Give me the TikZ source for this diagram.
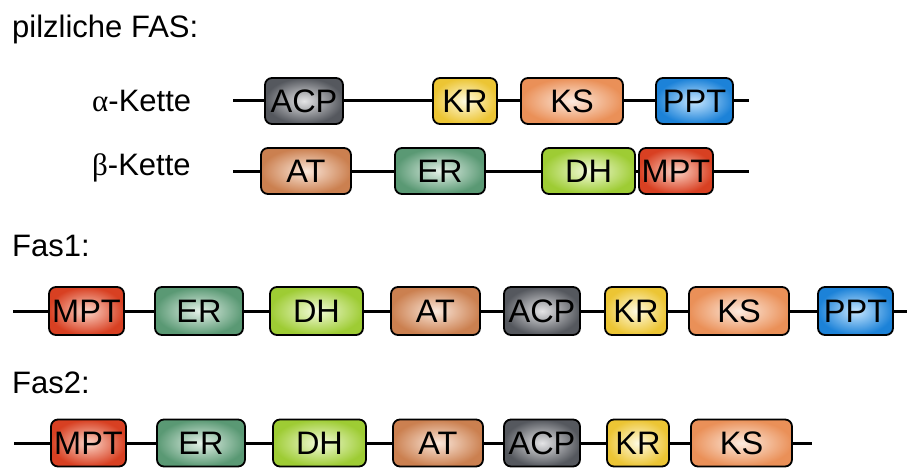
\documentclass[tikz,border=0pt]{standalone}
\usepackage{fontspec}
\setmainfont{Liberation Sans}
\newfontfamily\greekfont{Liberation Serif}
\newcommand\domfont{\fontsize{32.5}{38}\selectfont}
\newcommand\labfont{\fontsize{31}{36}\selectfont}

% domain colours (edge / centre)
\definecolor{acpO}{HTML}{55585E}\definecolor{acpI}{HTML}{E4E4E6}
\definecolor{krO}{HTML}{ECC534}\definecolor{krI}{HTML}{FFFBE2}
\definecolor{ksO}{HTML}{EA9058}\definecolor{ksI}{HTML}{FDEBDF}
\definecolor{pptO}{HTML}{1C82D8}\definecolor{pptI}{HTML}{C6E6FF}
\definecolor{atO}{HTML}{CB8050}\definecolor{atI}{HTML}{FBE7DA}
\definecolor{erO}{HTML}{5A9974}\definecolor{erI}{HTML}{E4F1E8}
\definecolor{dhO}{HTML}{9ECC34}\definecolor{dhI}{HTML}{F3FBDA}
\definecolor{mptO}{HTML}{D84022}\definecolor{mptI}{HTML}{FBD4C6}

\tikzset{
  dom/.style={draw=black, line width=1.8, rounded corners=7, inner sep=0,
    minimum height=46, font=\domfont, text=black},
  dACP/.style={dom, inner color=acpI, outer color=acpO},
  dKR/.style={dom, inner color=krI, outer color=krO},
  dKS/.style={dom, inner color=ksI, outer color=ksO},
  dPPT/.style={dom, inner color=pptI, outer color=pptO},
  dAT/.style={dom, inner color=atI, outer color=atO},
  dER/.style={dom, inner color=erI, outer color=erO},
  dDH/.style={dom, inner color=dhI, outer color=dhO},
  dMPT/.style={dom, inner color=mptI, outer color=mptO},
  chain/.style={line width=3, black},
  lab/.style={font=\labfont, anchor=base west, inner sep=0},
}

\begin{document}
\begin{tikzpicture}[x=1pt, y=-1pt]
\useasboundingbox (0,0) rectangle (907,468);
\fill[white] (0,0) rectangle (907,468);

% headings
\node[lab] (tpilz) at (12,38) {pilzliche FAS:};
\node[lab] (talpha) at (92,112) {{\greekfont α}-Kette};
\node[lab] (tbeta) at (92,175) {{\greekfont β}-Kette};
\node[lab] (tfas1) at (12,256) {Fas1:};
\node[lab] (tfas2) at (12,393) {Fas2:};

% alpha chain
\coordinate (as) at (233,101); \coordinate (ae) at (749,101);
\draw[chain] (as) -- (ae);
\node[dACP, minimum width=78] (a1) at (304,101) {ACP};
\node[dKR,  minimum width=64] (a2) at (465,101) {KR};
\node[dKS,  minimum width=102] (a3) at (572,101) {KS};
\node[dPPT, minimum width=77] (a4) at (694.5,101) {PPT};

% beta chain
\coordinate (bs) at (233,171); \coordinate (be) at (749,171);
\draw[chain] (bs) -- (be);
\node[dAT,  minimum width=90] (b1) at (306,171) {AT};
\node[dER,  minimum width=90] (b2) at (440,171) {ER};
\node[dDH,  minimum width=93] (b3) at (588.5,171) {DH};
\node[dMPT, minimum width=74] (b4) at (676,171) {MPT};

% Fas1
\coordinate (fs) at (13,311); \coordinate (fe) at (907,311);
\draw[chain] (fs) -- (fe);
\node[dMPT, minimum width=75, minimum height=48] (f1) at (86.5,311) {MPT};
\node[dER,  minimum width=88, minimum height=48] (f2) at (199,311) {ER};
\node[dDH,  minimum width=93, minimum height=48] (f3) at (316.5,311) {DH};
\node[dAT,  minimum width=89, minimum height=48] (f4) at (435.5,311) {AT};
\node[dACP, minimum width=76, minimum height=48] (f5) at (542,311) {ACP};
\node[dKR,  minimum width=62, minimum height=48] (f6) at (636,311) {KR};
\node[dKS,  minimum width=100, minimum height=48] (f7) at (739,311) {KS};
\node[dPPT, minimum width=75, minimum height=48] (f8) at (855.5,311) {PPT};

% Fas2
\coordinate (gs) at (14,443); \coordinate (ge) at (812,443);
\draw[chain] (gs) -- (ge);
\node[dMPT, minimum width=75, minimum height=47] (g1) at (88.5,443) {MPT};
\node[dER,  minimum width=88, minimum height=47] (g2) at (201,443) {ER};
\node[dDH,  minimum width=93, minimum height=47] (g3) at (319.5,443) {DH};
\node[dAT,  minimum width=90, minimum height=47] (g4) at (438,443) {AT};
\node[dACP, minimum width=76, minimum height=47] (g5) at (542,443) {ACP};
\node[dKR,  minimum width=62, minimum height=47] (g6) at (638,443) {KR};
\node[dKS,  minimum width=101, minimum height=47] (g7) at (741.5,443) {KS};
\end{tikzpicture}
\end{document}
